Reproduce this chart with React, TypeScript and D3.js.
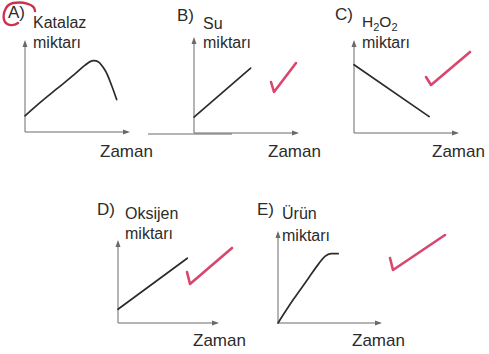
import React from 'react';
import * as d3 from 'd3';

// options and titles
const letters = ['A)', 'B)', 'C)', 'D)', 'E)'];
const titles = ['Katalaz', 'Su', 'H2O2', 'Oksijen', 'Ürün'];
const subtitle = 'miktarı';
const xLabel = 'Zaman';

// curves, in percent of each axis
const katalazX = [0, 16, 32, 48, 58, 65, 71, 78, 84, 89];
const katalazY = [18, 34, 49, 64, 74, 79, 78, 68, 52, 36];
const suX = [0, 55];
const suY = [17, 69];
const h2o2X = [0, 73];
const h2o2Y = [75, 18];
const oksijenX = [0, 70];
const oksijenY = [17, 80];
const urunX = [0, 15, 30, 40, 46, 52, 59];
const urunY = [0, 26, 50, 66, 74, 77, 77];

const seriesX = [katalazX, suX, h2o2X, oksijenX, urunX];
const seriesY = [katalazY, suY, h2o2Y, oksijenY, urunY];

// where each small plot sits on the page
const layout = [
  { ox: 25, oy: 132, w: 103, h: 90, lx: 8, ly: 18, tx: 33, ty: 28, my: 48, zx: 100, zy: 157 },
  { ox: 194, oy: 133, w: 103, h: 94, lx: 177, ly: 21, tx: 203, ty: 29, my: 48, zx: 268, zy: 157 },
  { ox: 354, oy: 133, w: 103, h: 91, lx: 335, ly: 20, tx: 362, ty: 27, my: 48, zx: 432, zy: 157 },
  { ox: 118, oy: 323, w: 99, h: 81, lx: 97, ly: 215, tx: 125, ty: 219, my: 239, zx: 193, zy: 346 },
  { ox: 278, oy: 323, w: 102, h: 90, lx: 257, ly: 215, tx: 282, ty: 219, my: 241, zx: 352, zy: 346 },
];

// red pen check marks (B, C, D, E)
const checks = [
  [[271, 82], [274, 92], [296, 63]],
  [[426, 77], [431, 85], [470, 52]],
  [[187, 272], [190, 284], [232, 248]],
  [[390, 258], [393, 270], [445, 235]],
];

const font = '"Liberation Sans", Arial, sans-serif';
const ink = '#2b2b2b';
const axisInk = '#6a6a6a';
const pen = '#d9466e';

const Panel = ({ i }: { i: number }) => {
  const p = layout[i];
  const x = d3.scaleLinear().domain([0, 100]).range([p.ox, p.ox + p.w]);
  const y = d3.scaleLinear().domain([0, 100]).range([p.oy, p.oy - p.h]);
  const pts = seriesX[i].map((v, k) => [v, seriesY[i][k]] as [number, number]);
  const curve = i === 0 ? d3.curveCatmullRom.alpha(0.5) : i === 4 ? d3.curveMonotoneX : d3.curveLinear;
  const line = d3.line<[number, number]>().x(d => x(d[0])).y(d => y(d[1])).curve(curve);
  const x0 = x(0), y0 = y(0), x1 = x(100), y1 = y(100);

  return (
    <g>
      <line x1={x0} y1={y0} x2={x1} y2={y0} stroke={axisInk} strokeWidth={1} />
      <line x1={x0} y1={y0} x2={x0} y2={y1} stroke={axisInk} strokeWidth={1} />
      <path d={`M${x1 + 2},${y0} L${x1 - 5},${y0 - 2.5} L${x1 - 5},${y0 + 2.5}Z`} fill={axisInk} />
      <path d={`M${x0},${y1 - 2} L${x0 - 2.5},${y1 + 5} L${x0 + 2.5},${y1 + 5}Z`} fill={axisInk} />
      <path d={line(pts) || ''} fill="none" stroke={ink} strokeWidth={1.7} strokeLinecap="round" />

      <text x={p.lx} y={p.ly} fontSize={17} fill={ink}>{letters[i]}</text>
      {titles[i] === 'H2O2' ? (
        <text x={p.tx} y={p.ty} fontSize={15.5} fill={ink}>
          H<tspan fontSize={11} dy={4}>2</tspan>
          <tspan dy={-4}>O</tspan>
          <tspan fontSize={11} dy={4}>2</tspan>
        </text>
      ) : (
        <text x={p.tx} y={p.ty} fontSize={16} fill={ink}>{titles[i]}</text>
      )}
      <text x={p.tx} y={p.my} fontSize={16} fill={ink}>{subtitle}</text>
      <text x={p.zx} y={p.zy} fontSize={17} fill={ink}>{xLabel}</text>
    </g>
  );
};

export default function App() {
  const tick = d3.line();
  return (
    <svg width={489} height={354} style={{ position: 'absolute', left: 0, top: 0, background: '#fff' }}
      fontFamily={font}>
      <rect width={489} height={354} fill="#fff" />
      {/* stray rule from the scan */}
      <line x1={148} y1={134} x2={232} y2={134} stroke={axisInk} strokeWidth={1} />
      {letters.map((_, i) => <Panel key={i} i={i} />)}
      {/* circle round the answer letter */}
      <path d="M35,11 C35,4 23,1.5 13,3 C4,5 2,17 5,22 C8,26 14,26 18,23" fill="none" stroke="#cf3050"
        strokeWidth={2.4} strokeLinecap="round" />
      {checks.map((c, i) => (
        <path key={i} d={tick(c as [number, number][]) || ''} fill="none" stroke={pen} strokeWidth={2.6}
          strokeLinecap="round" strokeLinejoin="round" />
      ))}
    </svg>
  );
}
